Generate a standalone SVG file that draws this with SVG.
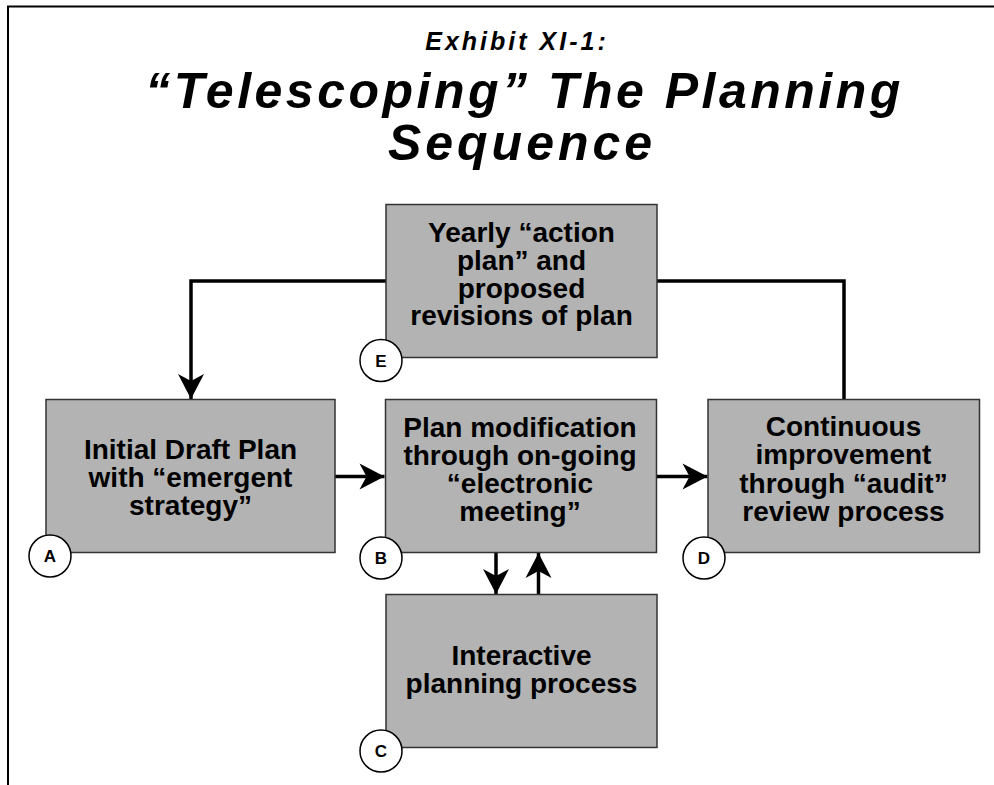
<svg xmlns="http://www.w3.org/2000/svg" width="994" height="785" viewBox="0 0 994 785">
  <style>
    .frame { stroke: #000; stroke-width: 2; fill: none; }
    .title { font-family: "Liberation Sans", Arial, sans-serif; font-weight: bold; font-style: italic; fill: #000; text-anchor: middle; }
    .box { fill: #b3b3b3; stroke: #333; stroke-width: 1.5; }
    .label { font-family: "Liberation Sans", Arial, sans-serif; font-weight: bold; font-size: 28px; fill: #000; text-anchor: middle; }
    .tag { fill: #fff; stroke: #000; stroke-width: 1.5; }
    .tagtext { font-family: "Liberation Sans", Arial, sans-serif; font-weight: bold; font-size: 17px; fill: #000; text-anchor: middle; }
    .conn { stroke: #000; stroke-width: 3.5; fill: none; }
  </style>
  <defs>
    <marker id="arrow" viewBox="-26 -14 27 28" refX="0" refY="0" markerWidth="27" markerHeight="28" markerUnits="userSpaceOnUse" orient="auto">
      <path d="M0,0 L-25,-13 L-18,0 L-25,13 Z" fill="#000"/>
    </marker>
  </defs>

  <rect width="994" height="785" fill="#fff"/>

  <!-- page frame (top and left edges only) -->
  <path class="frame" d="M8,785 V6.5 H994"/>

  <!-- heading -->
  <g id="heading">
    <text class="title" x="517" y="50" font-size="25" letter-spacing="3">Exhibit XI-1:</text>
    <text class="title" x="524.5" y="108" font-size="50" letter-spacing="3.5">“Telescoping” The Planning</text>
    <text class="title" x="522" y="160" font-size="50" letter-spacing="4">Sequence</text>
  </g>

  <!-- connectors -->
  <g id="connectors">
    <path class="conn" d="M386,281 H191 V399" marker-end="url(#arrow)"/>
    <path class="conn" d="M657,281 H844 V399.5"/>
    <path class="conn" d="M335,476.5 H384.5" marker-end="url(#arrow)"/>
    <path class="conn" d="M657,476.5 H707.5" marker-end="url(#arrow)"/>
    <path class="conn" d="M496,553 V594" marker-end="url(#arrow)"/>
    <path class="conn" d="M538.5,594 V553" marker-end="url(#arrow)"/>
  </g>

  <!-- E: yearly action plan -->
  <g id="node-e">
    <rect class="box" x="386" y="204.5" width="271" height="153"/>
    <text class="label" x="521.5" y="241.5">Yearly “action</text>
    <text class="label" x="521.5" y="269.5">plan” and</text>
    <text class="label" x="521.5" y="297.5">proposed</text>
    <text class="label" x="521.5" y="325">revisions of plan</text>
    <circle class="tag" cx="381" cy="360.5" r="21"/>
    <text class="tagtext" x="381" y="366.5">E</text>
  </g>

  <!-- A: initial draft plan -->
  <g id="node-a">
    <rect class="box" x="46" y="399.5" width="289" height="153"/>
    <text class="label" x="190.5" y="459">Initial Draft Plan</text>
    <text class="label" x="190.5" y="486.5">with “emergent</text>
    <text class="label" x="190.5" y="514.5">strategy”</text>
    <circle class="tag" cx="50" cy="556" r="21"/>
    <text class="tagtext" x="50" y="562">A</text>
  </g>

  <!-- B: plan modification -->
  <g id="node-b">
    <rect class="box" x="385.5" y="399.5" width="271" height="153"/>
    <text class="label" x="520" y="436.5">Plan modification</text>
    <text class="label" x="520" y="464.5">through on-going</text>
    <text class="label" x="520" y="492.5">“electronic</text>
    <text class="label" x="520" y="520.5">meeting”</text>
    <circle class="tag" cx="381" cy="558" r="21"/>
    <text class="tagtext" x="381" y="564">B</text>
  </g>

  <!-- D: continuous improvement -->
  <g id="node-d">
    <rect class="box" x="708" y="399.5" width="271.5" height="153"/>
    <text class="label" x="843.5" y="435.5">Continuous</text>
    <text class="label" x="843.5" y="464">improvement</text>
    <text class="label" x="843.5" y="492.5">through “audit”</text>
    <text class="label" x="843.5" y="520.5">review process</text>
    <circle class="tag" cx="704" cy="558" r="21"/>
    <text class="tagtext" x="704" y="564">D</text>
  </g>

  <!-- C: interactive planning -->
  <g id="node-c">
    <rect class="box" x="386" y="594.5" width="271" height="153"/>
    <text class="label" x="521.5" y="665">Interactive</text>
    <text class="label" x="521.5" y="692.5">planning process</text>
    <circle class="tag" cx="381" cy="751" r="21"/>
    <text class="tagtext" x="381" y="757">C</text>
  </g>
</svg>
